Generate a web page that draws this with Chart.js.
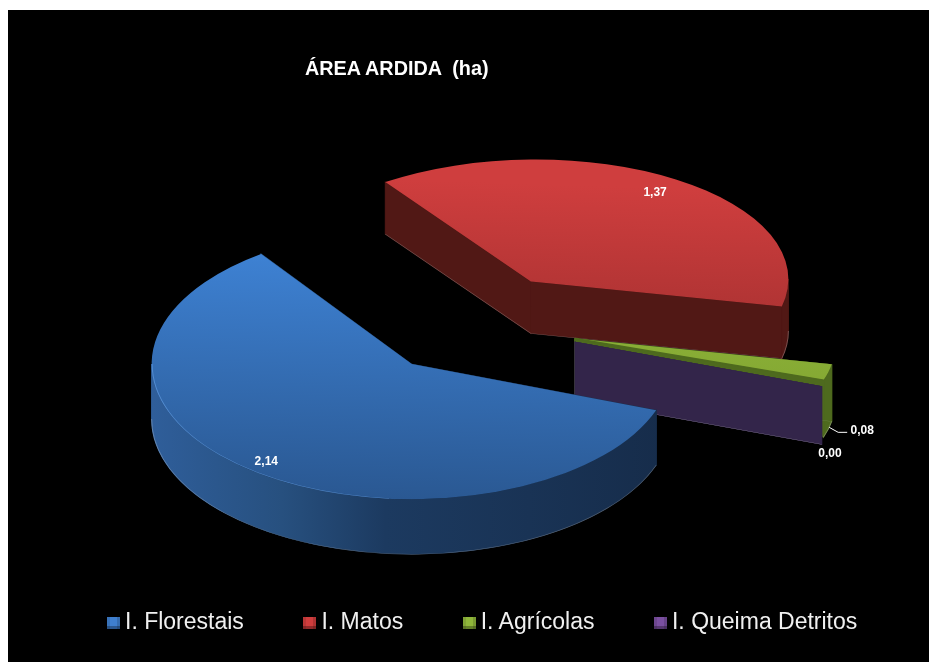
<!DOCTYPE html>
<html>
<head>
<meta charset="utf-8">
<style>
  html, body { margin: 0; background: #fff; }
  body { width: 929px; height: 662px; overflow: hidden; position: relative; font-family: "Liberation Sans", Arial, sans-serif; }
  #panel { position: absolute; left: 8px; top: 10px; width: 921px; height: 652px; background: #000; }
  #title { position: absolute; left: 297px; top: 47px; color: #fff; font-weight: bold; font-size: 19.8px; white-space: pre; }
  #legend { position: absolute; left: 99px; top: 598px; display: flex; gap: 59.5px; color: #f0f0f0; font-size: 23px; white-space: pre; }
  .item { display: flex; align-items: center; }
  .box { width: 13px; height: 12px; margin-right: 5px; margin-top: 2px; box-shadow: inset 0 -3px 0 rgba(0,0,0,.3), inset 3px 0 0 rgba(0,0,0,.1), inset -3px 0 0 rgba(0,0,0,.15); }
</style>
</head>
<body>
<div id="panel">
  <canvas id="chart" width="921" height="652"></canvas>
  <div id="title"></div>
  <div id="legend"></div>
</div>
<script src="https://cdn.jsdelivr.net/npm/chart.js@4/dist/chart.umd.min.js"></script>
<script>
const chartTitle = 'ÁREA ARDIDA  (ha)';
const categories = ['I. Florestais', 'I. Matos', 'I. Agrícolas', 'I. Queima Detritos'];
const areaValues = [2.14, 1.37, 0.08, 0.00];

const legendColors = ['#3f7fcf', '#cf3d3d', '#8fb63a', '#7a4fa0'];
const topColors = [['#3e82d4', '#2a5892'], ['#cf3e3e', '#962b2b'], ['#93b93c', '#7c9f2e'], ['#7a4fa0', '#7a4fa0']];
const wallColors = ['#1c3a60', '#511815', '#4e6a1e', '#33254a'];
const explode = [113, 113, 100, 102];

// squash + shear of each slice, the picture is not a true parallel projection
const views = [
  { sx: 1.02, sy: 0.53, k: 0, rot: 4, dy: -13, depth: 55 },
  { sx: 1.01, sy: 0.478, k: -0.009, rot: 5, dy: 2, depth: 52 },
  { sx: 1.02, sy: 0.46, k: 0.03, rot: 1, dy: -1, depth: 57 },
  { sx: 1.02, sy: 0.46, k: 0.03, rot: 2.5, dy: -1, depth: 58 }
];
const centerX = 467, centerY = 317;
const drawOrder = [1, 2, 3, 0];
const rad = Math.PI / 180;

function toLocal(ctx, arc, v) {
  ctx.transform(v.sx, v.k, 0, v.sy, centerX - v.sx * arc.x, centerY + v.dy - v.k * arc.x - v.sy * arc.y);
}

function apexOf(arc, i) {
  const mid = (arc.startAngle + arc.endAngle) / 2;
  return { x: arc.x + Math.cos(mid) * explode[i], y: arc.y + Math.sin(mid) * explode[i] };
}

function toScreen(arc, v, x, y) {
  return {
    x: v.sx * x + centerX - v.sx * arc.x,
    y: v.k * x + v.sy * y + centerY + v.dy - v.k * arc.x - v.sy * arc.y
  };
}

function drawWalls(ctx, arc, i) {
  const v = views[i];
  const r = arc.outerRadius;
  const a = apexOf(arc, i);
  const dv = v.depth / v.sy;
  const s = arc.startAngle + v.rot * rad, e = arc.endAngle + v.rot * rad;
  const edge = 'rgba(255,255,255,0.25)';

  let fill = wallColors[i];
  if (i === 0) {
    fill = ctx.createLinearGradient(a.x - r, 0, a.x + r, 0);
    fill.addColorStop(0, '#2f5e9a');
    fill.addColorStop(0.25, '#27507f');
    fill.addColorStop(0.45, '#1c3a60');
    fill.addColorStop(1, '#162c4a');
  }
  ctx.fillStyle = fill;
  ctx.lineWidth = 1;

  [s, e].forEach(t => {
    const px = a.x + Math.cos(t) * r, py = a.y + Math.sin(t) * r;
    ctx.beginPath();
    ctx.moveTo(a.x, a.y);
    ctx.lineTo(px, py);
    ctx.lineTo(px, py + dv);
    ctx.lineTo(a.x, a.y + dv);
    ctx.closePath();
    ctx.fill();
    ctx.strokeStyle = fill;   // hides the seam between two faces
    ctx.stroke();
  });

  [0, Math.PI * 2].forEach(base => {
    const from = Math.max(s, base), to = Math.min(e, base + Math.PI);
    if (to <= from) return;
    ctx.beginPath();
    ctx.arc(a.x, a.y, r, from, to);
    ctx.arc(a.x, a.y + dv, r, to, from, true);
    ctx.closePath();
    ctx.fill();
    ctx.strokeStyle = fill;
    ctx.stroke();
    ctx.strokeStyle = edge;
    ctx.beginPath();
    ctx.arc(a.x, a.y + dv, r, from, to);
    ctx.stroke();
  });

  if (i !== 0) {
    ctx.strokeStyle = edge;
    [s, e].forEach(t => {
      ctx.beginPath();
      ctx.moveTo(a.x + Math.cos(t) * r, a.y + Math.sin(t) * r + dv);
      ctx.lineTo(a.x, a.y + dv);
      ctx.stroke();
    });
  }
}

const pie3d = {
  id: 'pie3d',
  beforeDatasetDraw(chart, args) {
    const ctx = chart.ctx;
    drawOrder.forEach(i => {
      const arc = args.meta.data[i];
      const v = views[i];
      const a = apexOf(arc, i);
      const r = arc.outerRadius;
      ctx.save();
      toLocal(ctx, arc, v);
      drawWalls(ctx, arc, i);
      // arc.draw only knows the chart centre, move it out to the exploded apex
      ctx.save();
      ctx.translate(a.x, a.y);
      ctx.rotate(v.rot * rad);
      ctx.translate(-arc.x, -arc.y);
      arc.draw(ctx);
      ctx.restore();
      if (i === 0) {
        // lighter rim on the front left of the blue top
        ctx.strokeStyle = 'rgba(110,170,240,0.55)';
        ctx.lineWidth = 1;
        ctx.beginPath();
        ctx.arc(a.x, a.y, r - 0.5, 95 * rad, 180 * rad);
        ctx.stroke();
      }
      if (i === 2) {
        // dark strip on the green slice, along the purple wall
        const t = arc.endAngle + v.rot * rad;
        ctx.strokeStyle = '#4e6a1e';
        ctx.lineWidth = 3;
        ctx.beginPath();
        ctx.moveTo(a.x, a.y);
        ctx.lineTo(a.x + Math.cos(t) * r, a.y + Math.sin(t) * r);
        ctx.stroke();
      }
      ctx.restore();
    });
    return false;
  },
  afterDatasetsDraw(chart) {
    const ctx = chart.ctx;
    const data = chart.getDatasetMeta(0).data;
    ctx.save();
    ctx.font = 'bold 12px "Liberation Sans", Arial, sans-serif';
    ctx.fillStyle = '#fff';
    ctx.textAlign = 'center';
    ctx.textBaseline = 'middle';
    const text = i => areaValues[i].toFixed(2).replace('.', ',');

    [0, 1].forEach(i => {
      const arc = data[i], a = apexOf(arc, i);
      const mid = (arc.startAngle + arc.endAngle) / 2 + views[i].rot * rad;
      const f = i === 0 ? 0.91 : 0.87;
      const p = toScreen(arc, views[i], a.x + Math.cos(mid) * arc.outerRadius * f, a.y + Math.sin(mid) * arc.outerRadius * f);
      ctx.fillText(text(i), i === 0 ? p.x - 2 : p.x - 2, p.y);
    });

    // small slices sit outside, at the bottom of their rim
    [2, 3].forEach(i => {
      const arc = data[i], a = apexOf(arc, i), v = views[i];
      const mid = (arc.startAngle + arc.endAngle) / 2;
      const p = toScreen(arc, v, a.x + Math.cos(mid) * arc.outerRadius, a.y + Math.sin(mid) * arc.outerRadius);
      p.y += v.depth;
      if (i === 2) {
        ctx.strokeStyle = '#fff';
        ctx.lineWidth = 1;
        ctx.beginPath();
        ctx.moveTo(p.x, p.y);
        ctx.lineTo(p.x + 9, p.y + 5);
        ctx.lineTo(p.x + 18, p.y + 5);
        ctx.stroke();
        ctx.fillText(text(i), p.x + 33, p.y + 3);
      } else {
        ctx.fillText(text(i), p.x + 5, p.y + 14);
      }
    });
    ctx.restore();
  }
};

function topGradient(context) {
  const { chart, dataIndex } = context;
  const area = chart.chartArea;
  if (!area) return topColors[dataIndex][0];
  const g = chart.ctx.createLinearGradient(0, area.top, 0, area.bottom);
  g.addColorStop(0.1, topColors[dataIndex][0]);
  g.addColorStop(1, topColors[dataIndex][1]);
  return g;
}

new Chart(document.getElementById('chart'), {
  type: 'pie',
  data: {
    labels: categories,
    datasets: [{
      data: areaValues,
      backgroundColor: topGradient,
      borderWidth: 0
    }]
  },
  options: {
    responsive: false,
    animation: false,
    rotation: 106,
    layout: { padding: { top: 71, bottom: 71 } },
    plugins: { legend: { display: false }, tooltip: { enabled: false } }
  },
  plugins: [pie3d]
});

document.getElementById('title').textContent = chartTitle;
const legend = document.getElementById('legend');
categories.forEach((name, i) => {
  const item = document.createElement('div');
  item.className = 'item';
  const box = document.createElement('span');
  box.className = 'box';
  box.style.background = legendColors[i];
  item.appendChild(box);
  item.appendChild(document.createTextNode(name));
  legend.appendChild(item);
});
</script>
</body>
</html>
